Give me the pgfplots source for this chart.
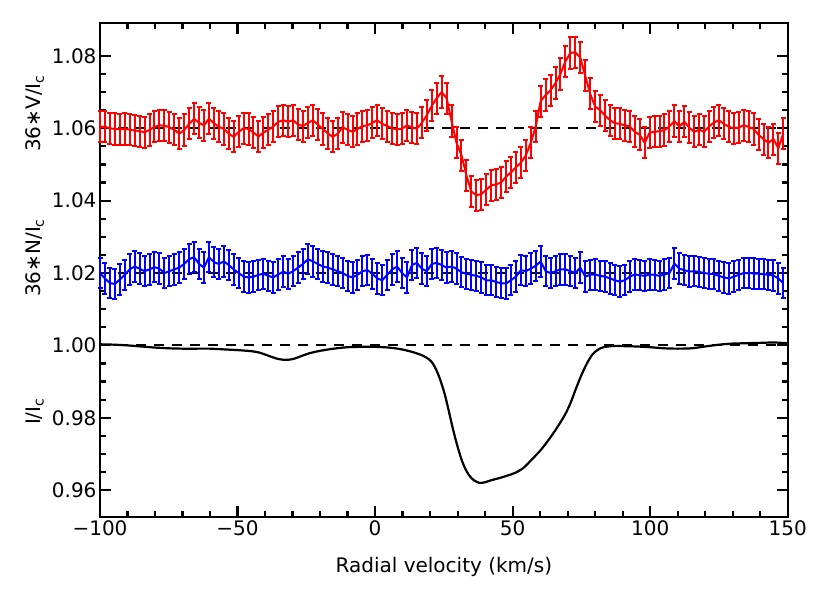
\documentclass[border=0pt]{standalone}
\usepackage{pgfplots}
\usepackage{pgfplotstable}
\usepackage{fontspec}
\pgfplotsset{compat=1.18}
\setmainfont{DejaVu Sans}
\newcommand\bigf{\fontsize{20}{24}\selectfont}

% LSD profiles: x = radial velocity, v = 36*V/Ic (+1.06), n = 36*N/Ic (+1.02)
\pgfplotstableread{
x v n
-100.0 1.0604 1.0200
-98.2 1.0604 1.0185
-96.4 1.0600 1.0172
-94.6 1.0598 1.0170
-92.8 1.0597 1.0182
-91.0 1.0598 1.0195
-89.2 1.0596 1.0210
-87.4 1.0594 1.0218
-85.6 1.0592 1.0212
-83.8 1.0589 1.0205
-82.0 1.0595 1.0210
-80.2 1.0604 1.0216
-78.4 1.0608 1.0212
-76.6 1.0607 1.0200
-74.8 1.0603 1.0205
-73.0 1.0596 1.0210
-71.2 1.0585 1.0215
-69.4 1.0595 1.0225
-67.6 1.0612 1.0238
-65.8 1.0626 1.0244
-64.0 1.0615 1.0225
-62.2 1.0608 1.0215
-60.4 1.0626 1.0244
-58.6 1.0614 1.0230
-56.8 1.0604 1.0225
-55.0 1.0598 1.0232
-53.2 1.0585 1.0222
-51.4 1.0576 1.0210
-49.6 1.0590 1.0200
-47.8 1.0600 1.0190
-46.0 1.0598 1.0188
-44.2 1.0588 1.0190
-42.4 1.0577 1.0195
-40.6 1.0588 1.0198
-38.8 1.0596 1.0192
-37.0 1.0605 1.0188
-35.2 1.0618 1.0196
-33.4 1.0622 1.0204
-31.6 1.0618 1.0198
-29.8 1.0622 1.0205
-28.0 1.0610 1.0215
-26.2 1.0606 1.0225
-24.4 1.0615 1.0238
-22.6 1.0622 1.0232
-20.8 1.0610 1.0225
-19.0 1.0598 1.0218
-17.2 1.0586 1.0215
-15.4 1.0576 1.0210
-13.6 1.0585 1.0205
-11.8 1.0603 1.0200
-10.0 1.0596 1.0192
-8.2 1.0590 1.0188
-6.4 1.0598 1.0195
-4.6 1.0606 1.0205
-2.8 1.0608 1.0208
-1.0 1.0615 1.0198
0.8 1.0622 1.0185
2.6 1.0612 1.0180
4.4 1.0606 1.0195
6.2 1.0600 1.0210
8.0 1.0597 1.0218
9.8 1.0599 1.0200
11.6 1.0608 1.0188
13.4 1.0602 1.0222
15.2 1.0599 1.0228
17.0 1.0615 1.0212
18.8 1.0636 1.0205
20.6 1.0662 1.0225
22.4 1.0683 1.0228
24.2 1.0700 1.0222
26.0 1.0683 1.0215
27.8 1.0620 1.0218
29.6 1.0560 1.0212
31.4 1.0525 1.0202
33.2 1.0470 1.0198
35.0 1.0425 1.0195
36.8 1.0415 1.0192
38.6 1.0418 1.0188
40.4 1.0430 1.0180
42.2 1.0442 1.0180
44.0 1.0445 1.0175
45.8 1.0450 1.0172
47.6 1.0466 1.0171
49.4 1.0478 1.0180
51.2 1.0492 1.0190
53.0 1.0505 1.0208
54.8 1.0525 1.0205
56.6 1.0560 1.0212
58.4 1.0605 1.0220
60.2 1.0675 1.0232
62.0 1.0692 1.0205
63.8 1.0705 1.0200
65.6 1.0725 1.0205
67.4 1.0750 1.0210
69.2 1.0785 1.0210
71.0 1.0808 1.0205
72.8 1.0810 1.0200
74.6 1.0795 1.0215
76.4 1.0745 1.0190
78.2 1.0695 1.0195
80.0 1.0660 1.0196
81.8 1.0650 1.0192
83.6 1.0635 1.0190
85.4 1.0622 1.0185
87.2 1.0614 1.0180
89.0 1.0612 1.0176
90.8 1.0608 1.0180
92.6 1.0605 1.0190
94.4 1.0590 1.0196
96.2 1.0582 1.0194
98.0 1.0560 1.0192
99.8 1.0588 1.0196
101.6 1.0590 1.0195
103.4 1.0592 1.0192
105.2 1.0595 1.0196
107.0 1.0605 1.0200
108.8 1.0620 1.0226
110.6 1.0605 1.0212
112.4 1.0618 1.0208
114.2 1.0602 1.0204
116.0 1.0590 1.0205
117.8 1.0596 1.0203
119.6 1.0590 1.0200
121.4 1.0605 1.0198
123.2 1.0616 1.0197
125.0 1.0622 1.0192
126.8 1.0612 1.0188
128.6 1.0604 1.0185
130.4 1.0600 1.0190
132.2 1.0602 1.0195
134.0 1.0608 1.0200
135.8 1.0604 1.0200
137.6 1.0598 1.0199
139.4 1.0582 1.0198
141.2 1.0570 1.0197
143.0 1.0560 1.0195
144.8 1.0570 1.0193
146.6 1.0545 1.0185
148.4 1.0585 1.0172
}\lsd

\begin{document}
\begin{tikzpicture}
\begin{axis}[
    scale only axis,
    width=687.7pt, height=494pt,
    xmin=-100, xmax=150,
    ymin=0.9525, ymax=1.089,
    axis line style={line width=2.2pt},
    every tick/.style={black, line width=2.2pt},
    tick align=inside,
    major tick length=11pt,
    minor tick length=6pt,
    xtick={-100,-50,0,50,100,150},
    xticklabels={−100,−50,0,50,100,150},
    minor x tick num=4,
    ytick={0.96,0.98,1.00,1.02,1.04,1.06,1.08},
    minor y tick num=3,
    yticklabel style={/pgf/number format/.cd, fixed, fixed zerofill, precision=2},
    /pgf/number format/assume math mode=true,
    tick label style={font=\bigf},
    xlabel={Radial velocity (km/s)},
    xlabel style={font=\bigf, yshift=-14pt},
    clip=false,
]
% reference levels
\addplot[black, line width=2.2pt, dash pattern=on 10pt off 8pt] coordinates {(-100,1.06)(150,1.06)};
\addplot[black, line width=2.2pt, dash pattern=on 10pt off 8pt] coordinates {(-100,1.02)(150,1.02)};
\addplot[black, line width=2.2pt, dash pattern=on 10pt off 8pt] coordinates {(-100,1.00)(150,1.00)};

% Stokes V
\addplot[red, line width=2pt, mark=none,
    error bars/.cd, y dir=both, y fixed=0.0043,
    error bar style={line width=2pt},
    error mark options={rotate=90, mark size=2.5pt, line width=2pt, red}]
    table[x=x, y=v] {\lsd};

% null
\addplot[blue, line width=2pt, mark=none,
    error bars/.cd, y dir=both, y fixed=0.0042,
    error bar style={line width=2pt},
    error mark options={rotate=90, mark size=2.5pt, line width=2pt, blue}]
    table[x=x, y=n] {\lsd};

% Stokes I
\addplot[black, line width=2.2pt, smooth, tension=0.5] coordinates {
(-100,1.0003)(-95,1.0002)(-90,1.0)(-85,0.9997)(-80,0.9994)(-75,0.9992)(-70,0.9991)
(-65,0.9991)(-60,0.9991)(-55,0.9989)(-50,0.9987)(-45,0.9984)(-42,0.9980)(-39,0.9972)
(-36,0.9964)(-33,0.9960)(-30,0.9962)(-27,0.9970)(-24,0.9978)(-20,0.9985)(-15,0.9991)
(-10,0.9995)(-5,0.9996)(0,0.9996)(5,0.9994)(9,0.9990)(13,0.9983)(17,0.9973)
(19.5,0.9962)(21,0.9950)(22.5,0.9928)(24,0.9898)(25.5,0.9860)(27,0.9812)(28.5,0.9763)
(30,0.9720)(31.5,0.9683)(33,0.9656)(34.5,0.9638)(36,0.9627)(38,0.9620)(40,0.9622)
(42,0.9627)(45,0.9633)(48,0.9640)(51,0.9648)(54,0.9662)(57,0.9685)(60,0.9709)
(63,0.9738)(66,0.9771)(69,0.9808)(71,0.9840)(73,0.9880)(75,0.9918)(77,0.9950)
(79,0.9975)(81,0.9988)(83,0.9995)(86,0.9998)(90,0.9998)(95,0.9997)(100,0.9995)
(105,0.9992)(110,0.9991)(115,0.9992)(120,0.9997)(125,1.0002)(130,1.0005)
(135,1.0006)(140,1.0007)(145,1.0008)(150,1.0006)
};

% panel labels
\node[rotate=90, font=\bigf] at ([xshift=-65pt]axis cs:-100,1.0641) {36∗V/I\textsubscript{c}};
\node[rotate=90, font=\bigf] at ([xshift=-65pt]axis cs:-100,1.0242) {36∗N/I\textsubscript{c}};
\node[rotate=90, font=\bigf] at ([xshift=-65pt]axis cs:-100,0.9817) {I/I\textsubscript{c}};
\end{axis}
\path ([shift={(-100pt,-73.7pt)}]current axis.south west) rectangle ([shift={(43.3pt,23.3pt)}]current axis.north east);
\end{tikzpicture}
\end{document}
